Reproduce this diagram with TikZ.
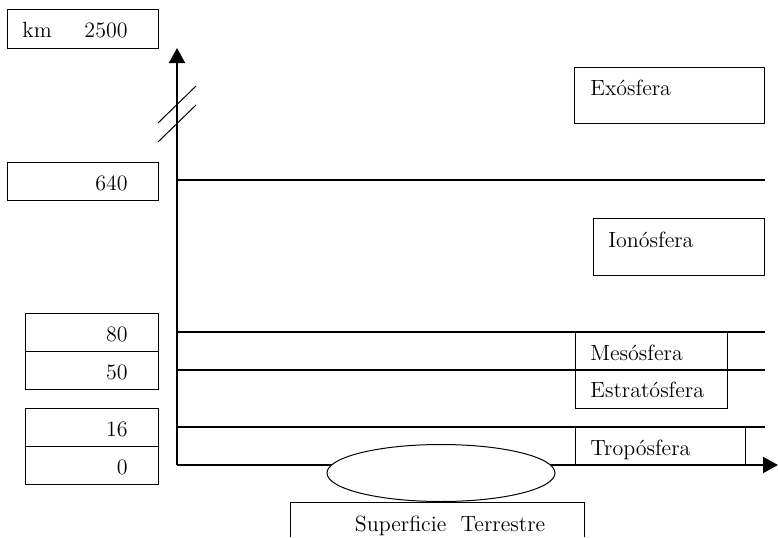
\documentclass[tikz,border=0pt]{standalone}
\usepackage{tikz}
\usetikzlibrary{calc,positioning,arrows.meta,shapes.geometric}

\begin{document}
\begin{tikzpicture}[x=0.5pt, y=-0.5pt,
		every node/.style={font=\fontsize{11}{13}\selectfont},
		valbox/.style={draw, line width=0.5pt, minimum height=19pt, inner sep=0pt},
		layerbox/.style={draw, line width=0.5pt, inner sep=0pt},
		txt/.style={inner sep=0pt, anchor=base west},
		num/.style={inner sep=0pt, anchor=base east},
		axis/.style={line width=1pt, -{Triangle[length=7.5pt, width=8pt]}},
		layer/.style={line width=0.8pt}]
		\useasboundingbox (0,0) rectangle (778,537);
		\coordinate (o) at (177,465);
		\coordinate (ytop) at (177,48);
		\coordinate (xend) at (778,465);
		\node[valbox, minimum width=75.5pt, minimum height=19.5pt] (bkm) at (82.5,28.5) {};
		\node[txt] (km) at (22,37) {km};
		\node[num] (v2500) at (128,37) {2500};
		\node[valbox, minimum width=75.5pt] (b640) at (82.5,181) {};
		\node[num] (v640) at (128,190) {640};
		\foreach \n/\y in {80/332, 50/370, 16/427, 0/465} {
			\node[valbox, minimum width=66.5pt] (b\n) at (91.5,\y) {};
			\node[num] (v\n) at (128,{\y+9}) {\n};
		}
		\foreach \n/\y in {640/180, 80/332, 50/370, 16/427} {
			\coordinate (l\n) at (177,\y);
			\coordinate (r\n) at (765,\y);
			\draw[layer] (l\n) -- (r\n);
		}
		\node[layerbox, minimum width=95pt, minimum height=28pt] (exo) at (669,95) {};
		\node[txt] (exot) at (590,95) {Exósfera};
		\node[layerbox, minimum width=85.5pt, minimum height=28.5pt] (iono) at (678.5,246.5) {};
		\node[txt] (ionot) at (608,247) {Ionósfera};
		\node[layerbox, minimum width=76pt, minimum height=38pt] (meso) at (651,370) {};
		\node[txt] (mesot) at (590,360) {Mesósfera};
		\node[txt] (estrat) at (590,397) {Estratósfera};
		\node[layerbox, minimum width=85pt, minimum height=19pt] (tropo) at (660,446) {};
		\node[txt] (tropot) at (590,455) {Tropósfera};
		\draw[axis] (o) -- (ytop);
		\draw[axis] (o) -- (xend);
		\draw[line width=0.5pt] (158,123) -- (196,86);
		\draw[line width=0.5pt] (158,142) -- (196,105);
		\node[ellipse, draw, fill=white, line width=0.5pt, minimum width=114pt, minimum height=28.5pt, inner sep=0pt] (earth) at (441,473) {};
		\coordinate (sw) at (290,537);
		\coordinate (se) at (584,537);
		\draw[line width=0.5pt] (sw) -- (sw |- earth.south) -- (se |- earth.south) -- (se);
		\node[inner sep=0pt, anchor=base] (surf) at (450,531) {Superficie\ \ Terrestre};
	\end{tikzpicture}
\end{document}
